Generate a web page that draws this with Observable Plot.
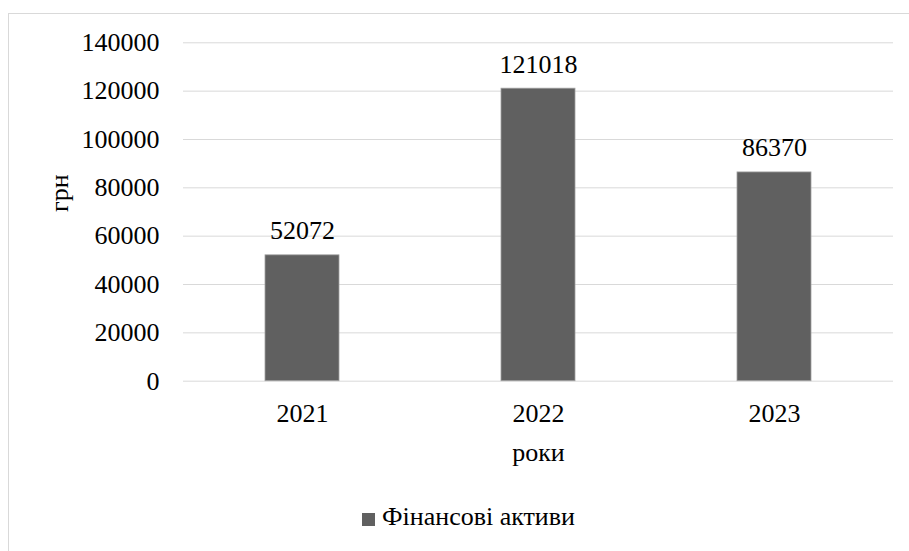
<!DOCTYPE html>
<html>
<head>
<meta charset="utf-8">
<script src="https://cdn.jsdelivr.net/npm/d3@7"></script>
<script src="https://cdn.jsdelivr.net/npm/@observablehq/plot@0.6"></script>
<style>
  html, body { margin: 0; padding: 0; background: #fff; overflow: hidden; width: 909px; height: 551px; }
  #wrap { position: relative; width: 909px; height: 551px; }
  #border { position: absolute; left: 8px; top: 13px; width: 1000px; height: 1000px; border: 1px solid #d9d9d9; box-sizing: border-box; pointer-events: none; }
  #chart { position: absolute; left: 0; top: 0; }
  #legend { position: absolute; left: 362px; top: 502px; display: flex; align-items: flex-start; font-family: "Liberation Serif", Tinos, "DejaVu Serif", "Noto Serif", "Times New Roman", Times, serif; font-size: 26px; line-height: 30px; color: #000; }
  #legend .sw { width: 13px; height: 13px; background: #606060; margin-top: 11px; margin-right: 7px; }
  svg text { font-family: "Liberation Serif", Tinos, "DejaVu Serif", "Noto Serif", "Times New Roman", Times, serif; }
</style>
</head>
<body>
<div id="wrap">
  <div id="border"></div>
  <div id="chart"></div>
  <div id="legend"><div class="sw"></div><span id="legendText"></span></div>
</div>
<script>
const years = ["2021", "2022", "2023"];
const values = [52072, 121018, 86370];
const yTicks = [0, 20000, 40000, 60000, 80000, 100000, 120000, 140000];
const seriesName = "Фінансові активи";
const yLabel = "грн";
const xLabel = "роки";

const data = years.map((y, i) => ({year: y, value: values[i]}));
const serif = '"Liberation Serif", Tinos, "DejaVu Serif", "Noto Serif", "Times New Roman", Times, serif';

const plot = Plot.plot({
  width: 909,
  height: 500,
  marginTop: 42.3,
  marginLeft: 183,
  marginRight: 16,
  marginBottom: 119.3,
  style: {fontFamily: serif, fontSize: "26px", color: "#000", background: "transparent", overflow: "visible"},
  x: {domain: years, paddingInner: 0.687, paddingOuter: 0.3435, label: null},
  y: {domain: [0, 140000], label: null},
  marks: [
    Plot.gridY(yTicks, {stroke: "#d9d9d9", strokeOpacity: 1, strokeWidth: 1}),
    Plot.barY(data, {x: "year", y: "value", fill: "#606060", stroke: "#a0a0a0", strokeWidth: 0.8}),
    Plot.text(data, {x: "year", y: "value", text: d => String(d.value), lineAnchor: "bottom", dy: -16, fill: "#000"}),
    Plot.axisY({ticks: yTicks, tickSize: 0, tickPadding: 24, tickFormat: d => String(d), label: null}),
    Plot.axisX({tickSize: 0, tickPadding: 22, label: null}),
    Plot.text([xLabel], {frameAnchor: "bottom", dy: 79.3, lineAnchor: "bottom", fill: "#000"}),
    Plot.text([yLabel], {frameAnchor: "left", dx: -124, rotate: -90, fill: "#000"})
  ]
});
document.getElementById("chart").appendChild(plot);
document.getElementById("legendText").textContent = seriesName;
</script>
</body>
</html>
